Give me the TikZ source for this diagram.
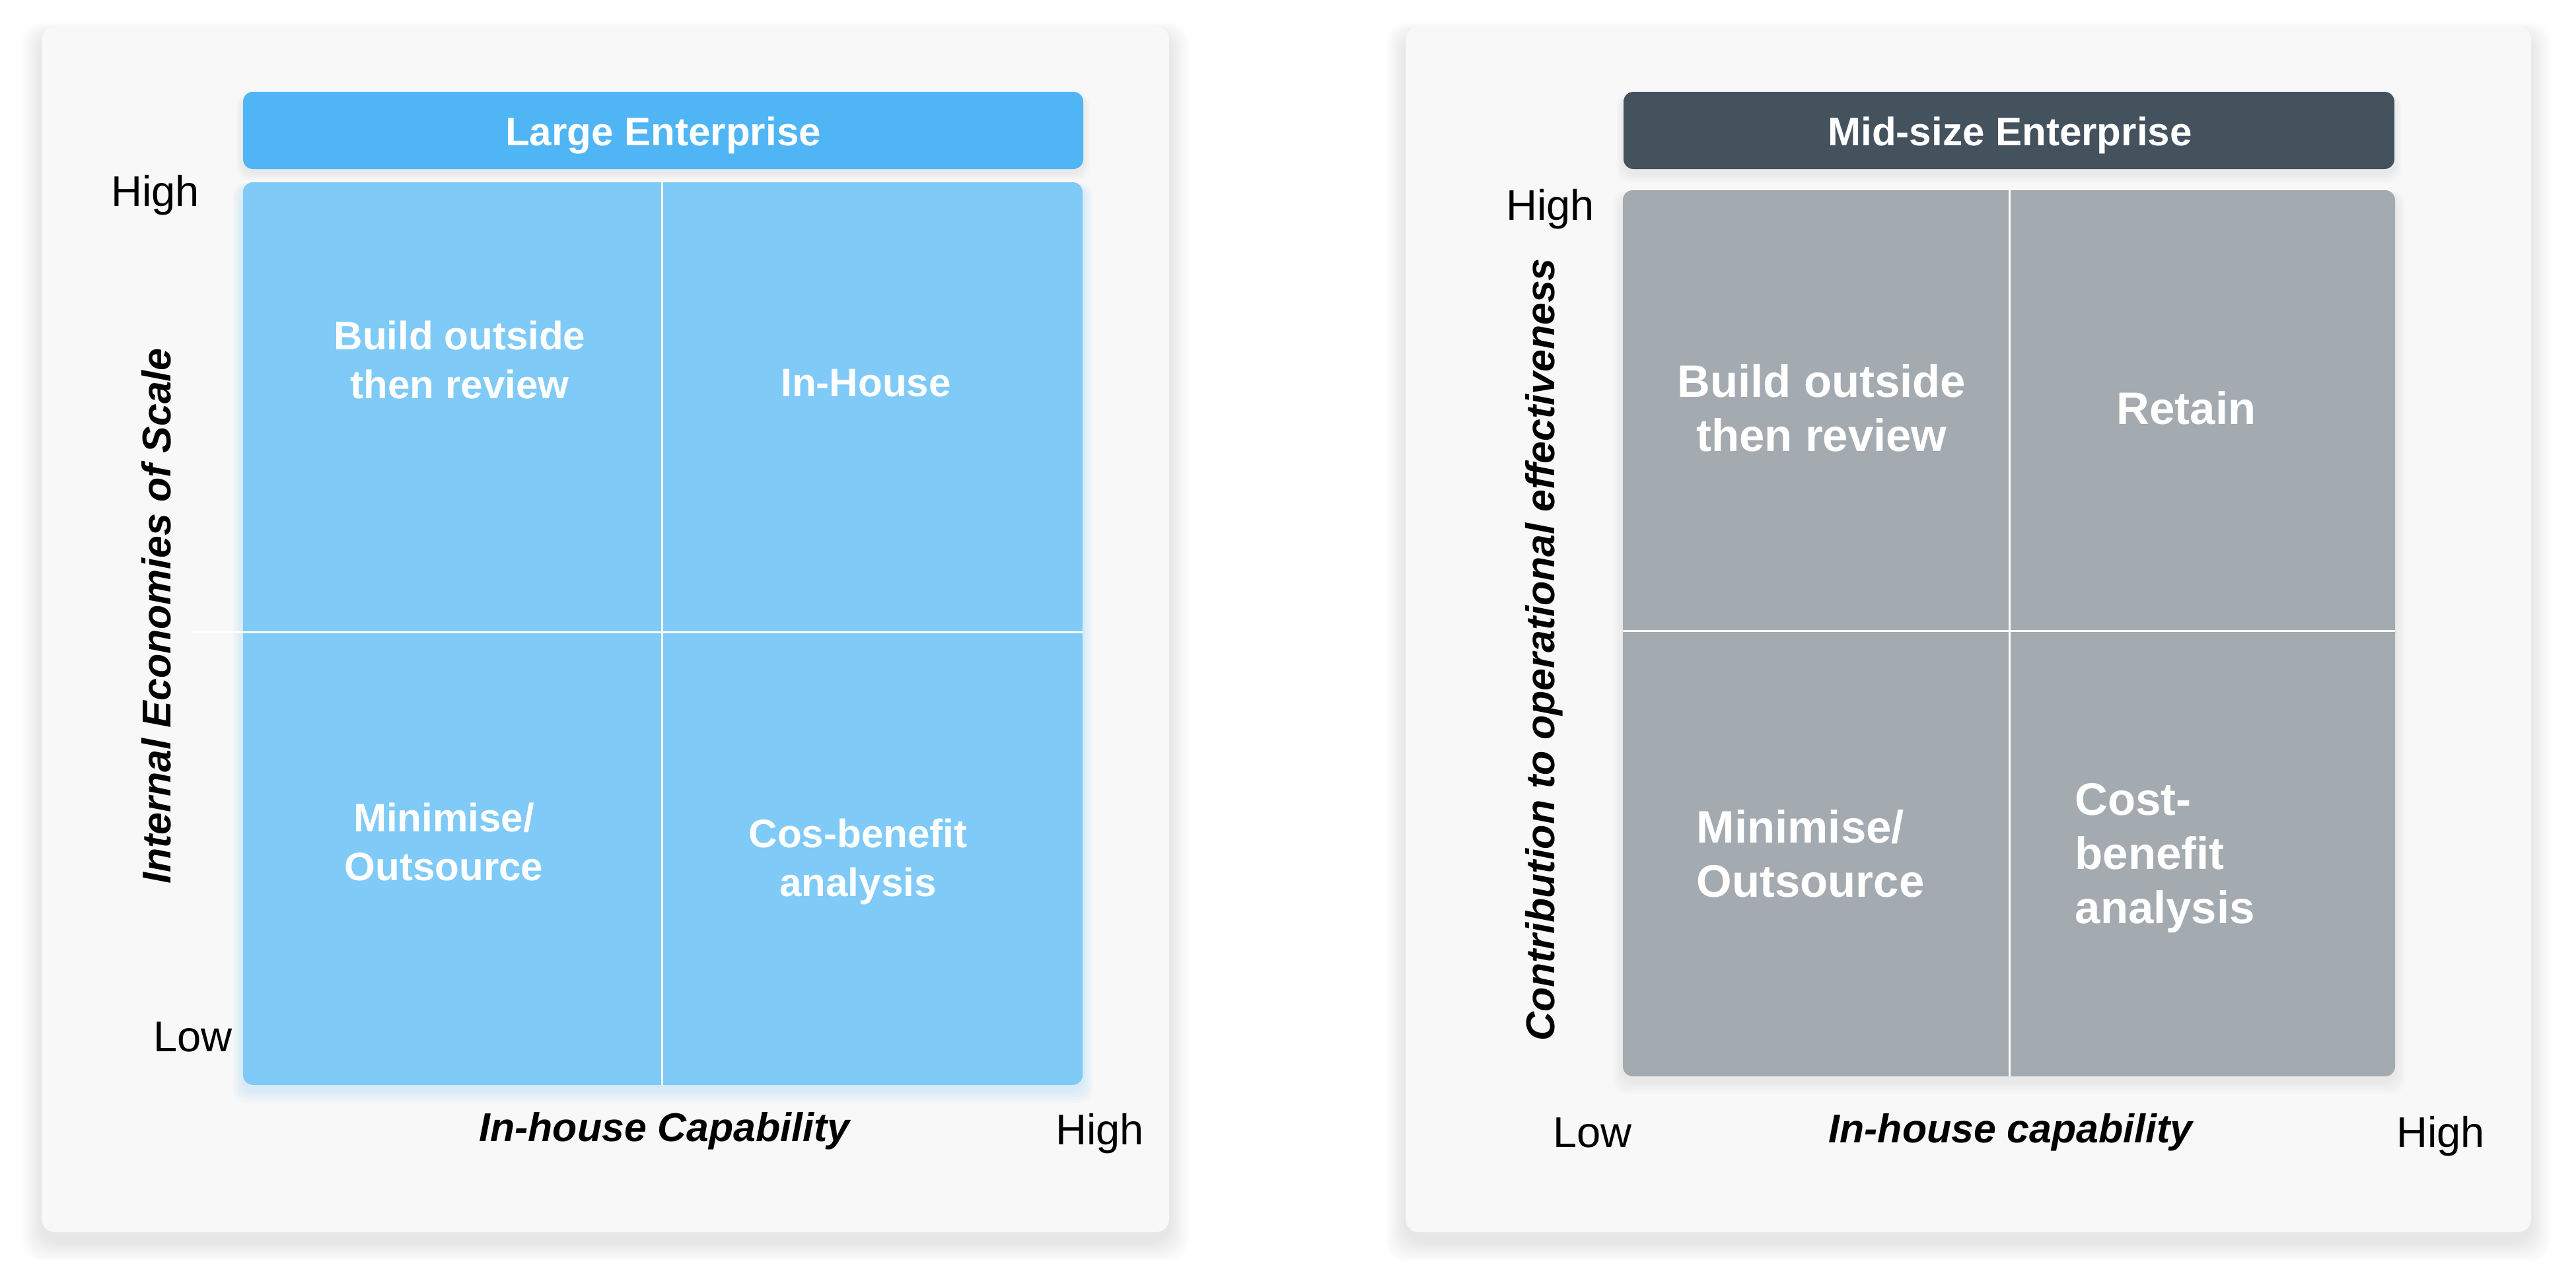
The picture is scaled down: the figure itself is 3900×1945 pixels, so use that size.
\documentclass[tikz,border=0pt]{standalone}
\usepackage{fontspec}
\setmainfont{Liberation Sans}
\usepackage{xcolor}
\usetikzlibrary{positioning}
\definecolor{cardbg}{HTML}{F8F8F8}
\definecolor{largehead}{HTML}{4FB5F5}
\definecolor{largecell}{HTML}{7FCAF7}
\definecolor{midhead}{HTML}{44525E}
\definecolor{midcell}{HTML}{A3AAB0}

\begin{document}
\begin{tikzpicture}[x=0.01cm, y=-0.01cm,
    card/.style={fill=cardbg, rounded corners=0.2cm},
    boxfill/.style={rounded corners=0.15cm},
    divider/.style={white, line width=0.03cm},
    headtext/.style={text=white, anchor=base, inner sep=0pt, font=\fontsize{17.1}{20.5}\selectfont\bfseries},
    celltext/.style={text=white, anchor=base, inner sep=0pt, align=center, font=\fontsize{17.1}{20.8}\selectfont\bfseries},
    bigcell/.style={celltext, font=\fontsize{19.6}{23.3}\selectfont\bfseries},
    lohi/.style={anchor=base, inner sep=0pt, font=\fontsize{18.5}{22}\selectfont},
    axistitle/.style={anchor=base, inner sep=0pt, font=\fontsize{17.3}{21}\selectfont\bfseries\itshape}]
    \useasboundingbox (0,0) rectangle (3900,1945);

    % Card shadows
    \foreach \s in {1,...,12} {
        \fill[black, opacity=0.009, rounded corners=0.3cm] (63-\s*2.5, 52-\s*1.5) rectangle (1770+\s*2.5, 1880+\s*2.5);
        \fill[black, opacity=0.009, rounded corners=0.3cm] (2128-\s*2.5, 52-\s*1.5) rectangle (3832+\s*2.5, 1880+\s*2.5);
    }
    \fill[card] (63,40) rectangle (1770,1866);
    \fill[card] (2128,40) rectangle (3832,1866);

    % Large enterprise
    \foreach \s in {1,...,5} {
        \fill[black, opacity=0.01, rounded corners=0.2cm] (368-\s*2, 145-\s) rectangle (1640+\s*2, 262+\s*2);
        \fill[largecell, opacity=0.05, rounded corners=0.2cm] (368-\s*3, 282-\s) rectangle (1639+\s*3, 1650+\s*4);
    }
    \fill[largehead, boxfill] (368,139) rectangle (1640,256);
    \node[headtext] (lhead) at (1004,220) {Large Enterprise};
    \fill[largecell, boxfill] (368,276) rectangle (1639,1643);
    \draw[divider] (1002,276) -- (1002,1643);
    \draw[divider] (290,957) -- (1639,957);

    % base = last line
    \node[celltext] (lbuild) at (696,603) {Build outside\\then review};
    \node[celltext] (lhouse) at (1311,600) {In-House};
    \node[celltext] (lmin) at (672,1333) {Minimise/\\Outsource};
    \node[celltext] (lcost) at (1299,1357) {Cos-benefit\\analysis};

    \node[lohi] (lhigh) at (235,312) {High};
    \node[lohi] (llow) at (292,1592) {Low};
    \node[lohi] (lxhigh) at (1665,1733) {High};
    \node[axistitle] (lxtitle) at (1006,1728) {In-house Capability};
    \node[axistitle, rotate=90] (lytitle) at (258,933) {Internal Economies of Scale};

    % Mid-size enterprise
    \foreach \s in {1,...,5} {
        \fill[black, opacity=0.012, rounded corners=0.2cm] (2458-\s*2, 145-\s) rectangle (3625+\s*2, 262+\s*3);
        \fill[black, opacity=0.01, rounded corners=0.2cm] (2457-\s*3, 294-\s) rectangle (3626+\s*3, 1637+\s*4);
    }
    \fill[midhead, boxfill] (2458,139) rectangle (3625,256);
    \node[headtext] (mhead) at (3043,220) {Mid-size Enterprise};
    \fill[midcell, boxfill] (2457,288) rectangle (3626,1630);
    \draw[divider] (3042,288) -- (3042,1630);
    \draw[divider] (2457,955) -- (3626,955);

    \node[bigcell] (mbuild) at (2758,683) {Build outside\\then review};
    \node[bigcell] (mretain) at (3310,642) {Retain};
    \node[bigcell, anchor=base west, align=left] (mmin) at (2568,1358) {Minimise/\\Outsource};
    \node[bigcell, anchor=base west, align=left] (mcost) at (3141,1398) {Cost-\\benefit\\analysis};

    \node[lohi] (mhigh) at (2347,333) {High};
    \node[lohi] (mlow) at (2411,1737) {Low};
    \node[lohi] (mxhigh) at (3695,1737) {High};
    \node[axistitle] (mxtitle) at (3044,1730) {In-house capability};
    \node[axistitle, rotate=90] (mytitle) at (2353,984) {Contribution to operational effectiveness};
\end{tikzpicture}
\end{document}
